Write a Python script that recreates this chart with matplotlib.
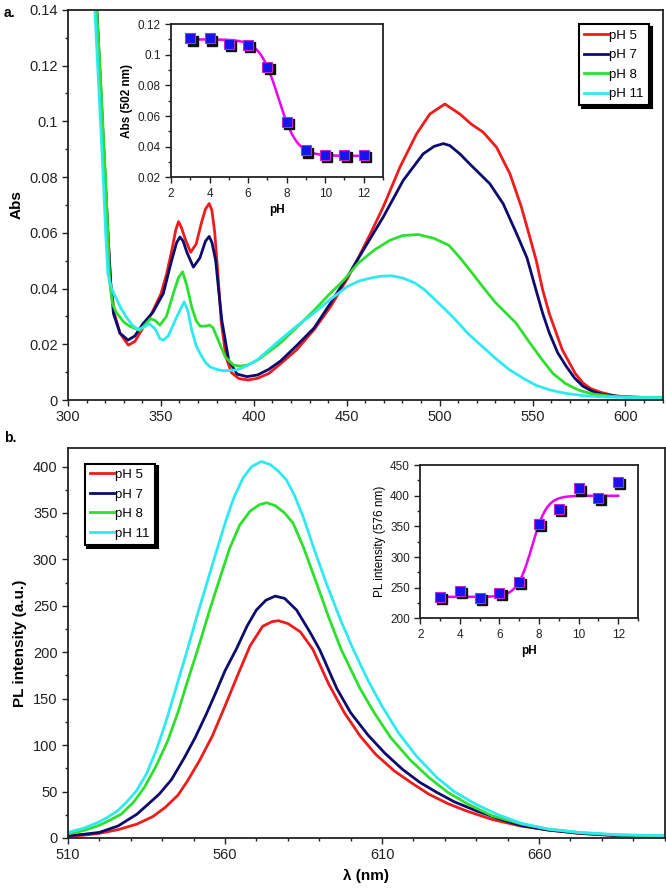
import numpy as np
import matplotlib
matplotlib.use('Agg')
import matplotlib.pyplot as plt
from matplotlib.ticker import MultipleLocator, FixedLocator, FuncFormatter
from matplotlib import transforms

plt.rcParams['font.family'] = ['Liberation Sans', 'DejaVu Sans']

# ---- panel a: absorption spectra ----
wl_a5 = [313, 315.5, 317, 318.5, 320, 321.5, 323, 325, 328, 332.5, 336, 340, 345, 350, 353, 356, 358,
         359.5, 361, 363, 366, 369, 372, 374, 376, 377.5, 379, 380.5, 382.5, 385, 388, 392, 397, 402,
         408, 414, 423, 432.5, 441.5, 450.5, 457, 463, 469.6, 478.6, 487.6, 494.7, 502.8, 510.9, 517,
         523.4, 530.6, 537.8, 544, 548.5, 552, 555.4, 559, 562.7, 566, 569.8, 573, 577, 581, 586, 595,
         605, 620]
abs_5 = [0.16, 0.14, 0.12, 0.10, 0.08, 0.06, 0.042, 0.031, 0.024, 0.0197, 0.021, 0.0255, 0.031, 0.038,
         0.045, 0.054, 0.061, 0.064, 0.062, 0.058, 0.053, 0.056, 0.064, 0.0685, 0.0705, 0.068, 0.060,
         0.047, 0.028, 0.0155, 0.0098, 0.0077, 0.0072, 0.0078, 0.0095, 0.0128, 0.018, 0.0253, 0.0337,
         0.0438, 0.052, 0.060, 0.0692, 0.0835, 0.0955, 0.1026, 0.1062, 0.1026, 0.099, 0.0961, 0.0907,
         0.0812, 0.0692, 0.0585, 0.050, 0.0396, 0.031, 0.0241, 0.018, 0.0134, 0.0095, 0.0062, 0.0042,
         0.0029, 0.0014, 0.001, 0.0008]

wl_a7 = [313, 315.5, 317, 318.5, 320, 321.5, 323, 324.5, 328, 332.3, 336, 340.4, 345.8, 351.3, 355.8,
         358.5, 360.3, 362, 364, 367.5, 371, 374, 376, 377.5, 379.5, 381, 382.8, 386.5, 391, 396.4, 402,
         408, 414.4, 423, 432.5, 441.5, 450.5, 460, 469.6, 480.4, 491.1, 497, 502, 505.5, 510.9, 516.2,
         527, 534.2, 541.4, 547, 551.8, 555.5, 559, 563.5, 568, 572.5, 577, 582, 587.7, 600, 620]
abs_7 = [0.16, 0.14, 0.12, 0.10, 0.08, 0.06, 0.042, 0.031, 0.024, 0.0215, 0.023, 0.0274, 0.0316, 0.0382,
         0.0501, 0.0565, 0.0585, 0.057, 0.053, 0.0477, 0.051, 0.057, 0.0587, 0.0565, 0.050, 0.040,
         0.0286, 0.0143, 0.0093, 0.0084, 0.009, 0.011, 0.014, 0.0195, 0.0259, 0.035, 0.0444, 0.055,
         0.0656, 0.0788, 0.0883, 0.091, 0.092, 0.0913, 0.0883, 0.0847, 0.0776, 0.0704, 0.0597, 0.051,
         0.0396, 0.031, 0.0241, 0.017, 0.0122, 0.008, 0.005, 0.0032, 0.002, 0.0011, 0.0008]

wl_a8 = [313, 315.5, 317.2, 318.7, 320.2, 321.5, 322.5, 324, 326, 330, 333.2, 338.6, 341.5, 344.4, 347,
         349.5, 353, 356.7, 359.5, 361.7, 364, 366.6, 369, 371.1, 374, 376.2, 378, 380.1, 384.6, 389.2,
         393, 396.4, 402, 414.4, 423, 432.5, 440, 448.7, 456, 465, 473.2, 480, 488.4, 497, 505, 511,
         517, 523, 530, 536, 541, 548, 555, 561, 568, 575, 582, 592, 605, 620]
abs_8 = [0.16, 0.14, 0.12, 0.10, 0.08, 0.06, 0.042, 0.0345, 0.0315, 0.028, 0.0265, 0.025, 0.027, 0.0292,
         0.0285, 0.0269, 0.030, 0.0382, 0.044, 0.046, 0.041, 0.0334, 0.0285, 0.0265, 0.0265, 0.0269,
         0.026, 0.0227, 0.0155, 0.0125, 0.0122, 0.0125, 0.0143, 0.0205, 0.026, 0.0322, 0.0375, 0.0432,
         0.049, 0.0539, 0.0573, 0.059, 0.0594, 0.058, 0.0555, 0.051, 0.046, 0.0408, 0.035, 0.031,
         0.0277, 0.021, 0.0146, 0.0095, 0.0058, 0.0035, 0.0022, 0.0014, 0.001, 0.001]

wl_a11 = [312.5, 314.5, 316, 317.5, 319, 320.3, 321.5, 323.5, 326, 328.5, 331.4, 334.5, 337.7, 340.5,
          343.7, 347, 349.5, 351.3, 354, 358.5, 362.5, 364.5, 366.6, 369, 371.1, 374, 376.5, 380,
          383.7, 391, 396, 402, 414.4, 423, 432.5, 441, 450.5, 457, 463.2, 468, 474, 480, 486.7, 492,
          497.5, 503, 508.4, 515, 522.8, 530, 537.3, 545, 551.8, 560, 568, 577, 586, 600, 620]
abs_11 = [0.16, 0.14, 0.12, 0.10, 0.08, 0.06, 0.0454, 0.040, 0.0364, 0.033, 0.0298, 0.027, 0.0253, 0.026,
          0.0274, 0.0255, 0.022, 0.0215, 0.023, 0.0298, 0.0352, 0.032, 0.0251, 0.0195, 0.0167, 0.0135,
          0.0119, 0.011, 0.0105, 0.0108, 0.0122, 0.0145, 0.0217, 0.0265, 0.0313, 0.036, 0.0408, 0.0428,
          0.0438, 0.0444, 0.0446, 0.0438, 0.042, 0.0395, 0.036, 0.0325, 0.0289, 0.024, 0.0193, 0.015,
          0.011, 0.0078, 0.0053, 0.0035, 0.0024, 0.0016, 0.0012, 0.0009, 0.0008]

# inset a: absorbance at 502 nm vs pH
ph = [3, 4, 5, 6, 7, 8, 9, 10, 11, 12]
abs502 = [0.1106, 0.1106, 0.1073, 0.1062, 0.092, 0.056, 0.0375, 0.0346, 0.0346, 0.0346]
fit_a = dict(start=0.110, end=0.034, x0=7.565, dx=0.483)

# ---- panel b: PL spectra ----
wl_b5 = [510, 515, 520, 526, 532, 537, 541, 545, 548, 552, 556, 560, 564, 568, 572, 575, 577, 580, 584,
         588, 593, 598, 603, 608, 614, 620, 625, 631, 637, 645, 654, 663, 673, 685, 700]
pl_5 = [1.8, 3, 5, 9, 15, 23, 33, 46, 61, 84, 110, 142, 175, 207, 228, 233, 234, 231, 222, 203, 166,
        135, 110, 90, 72, 58, 47, 37, 29, 20, 13, 8.5, 5, 2.5, 1.2]

wl_b7 = [510, 515, 520, 526, 532, 539, 543, 547, 550.5, 554, 557, 560, 563.7, 567, 570, 573, 576, 579,
         582.8, 587, 590.2, 595.6, 600, 605.5, 611, 616.5, 622, 627.5, 633, 640, 647, 654.5, 663, 673,
         685, 700]
pl_7 = [2.5, 4, 6, 13, 25.7, 47, 63, 86, 108, 133, 156, 180, 204, 228, 245.5, 256, 260.5, 258, 245.5,
        222, 202.5, 161, 135, 111, 91, 74, 60, 49, 39, 29.3, 21, 13.2, 8.5, 5, 2.5, 1.2]

wl_b8 = [510, 515, 519.6, 523, 527, 531, 534.3, 538, 541.7, 545, 548, 551.5, 555, 558.4, 561.5, 564.7,
         568, 571, 573.2, 576, 579, 581.7, 585, 589.2, 593, 597, 603, 607.5, 612.8, 619, 625, 631,
         637.4, 645, 654.5, 663, 673, 685, 700]
pl_8 = [4.3, 8, 13.2, 18.5, 25.7, 39, 54.3, 77, 104, 135, 168, 205, 244, 280, 312, 337, 352, 359,
        361, 358, 350, 339, 313, 274, 238, 203, 161, 135, 108, 84, 65, 49, 36.4, 24, 15, 9.5, 5.7, 3.2, 2.1]

wl_b11 = [510, 515, 519.6, 522.5, 525.7, 528.5, 531.8, 535, 538, 541, 544.1, 547.8, 551, 554.1, 557.3,
          560.5, 563, 565.8, 568.5, 571.6, 574.5, 577, 579.6, 582, 584.9, 588.5, 592.3, 596.9, 601,
          605.5, 610, 615.3, 621, 627.5, 633, 639.8, 647, 654.5, 663, 673, 685, 700]
pl_11 = [6, 10.5, 16.8, 22, 29, 38, 50.7, 69, 93.5, 123, 158, 200, 238, 273, 309, 344, 368, 388, 400,
         405.5, 402, 395, 385.5, 370, 346, 310, 274, 234, 202, 170, 142, 113, 88, 65, 50, 36.4, 25,
         15.7, 9.5, 6, 3.5, 2.5]

# inset b: PL intensity at 576 nm vs pH
pl576 = [235, 245, 233, 242, 260, 354, 379, 412, 396, 423]
fit_b = dict(start=235, end=400, x0=7.645, dx=0.375)

labels = ['pH 5', 'pH 7', 'pH 8', 'pH 11']
colors = ['#ee1c1c', '#0c0c6e', '#2ee02e', '#2eeaf0']

fmt = FuncFormatter(lambda v, p: '%g' % round(v, 6))


def style_axes(ax, size):
    for s in ax.spines.values():
        s.set_linewidth(1.3)
        s.set_color('#222222')
    ax.tick_params(which='both', direction='out', top=False, right=False, labelsize=size,
                   colors='#222222', width=1.0)
    ax.tick_params(which='major', length=4)
    ax.tick_params(which='minor', length=2.5)


def draw_inset(ax, x, y, fit):
    # Boltzmann sigmoid going from 'start' (low pH) to 'end' (high pH)
    xx = np.linspace(3, 12, 200)
    yy = fit['end'] + (fit['start'] - fit['end']) / (1 + np.exp((xx - fit['x0']) / fit['dx']))
    ax.plot(xx, yy, color='#ee00ee', lw=1.8, zorder=2)
    shadow = transforms.offset_copy(ax.transData, fig=fig, x=1.6, y=-1.6, units='points')
    ax.plot(x, y, 's', ms=7.5, color='#111111', mec='#111111', transform=shadow, zorder=3)
    ax.plot(x, y, 's', ms=7.5, mfc='#1414f0', mec='#cc22cc', mew=0.8, zorder=4)


def add_legend(ax, loc, anchor):
    leg = ax.legend(loc=loc, bbox_to_anchor=anchor, fontsize=9.5, handlelength=1.8,
                    handletextpad=0.1, labelspacing=0.55, borderpad=0.4, fancybox=False,
                    framealpha=1, edgecolor='black',
                    shadow={'color': 'black', 'alpha': 1.0})
    leg.get_frame().set_linewidth(1.5)


fig = plt.figure(figsize=(6.66, 8.91), dpi=100)

# panel a
ax_a = fig.add_axes([0.102, 0.551, 0.893, 0.438])
for wl, val, lab, c in zip([wl_a5, wl_a7, wl_a8, wl_a11], [abs_5, abs_7, abs_8, abs_11], labels, colors):
    ax_a.plot(wl, val, color=c, lw=2.0, label=lab)
ax_a.set_xlim(300, 620)
ax_a.set_ylim(0, 0.14)
ax_a.xaxis.set_major_locator(MultipleLocator(50))
ax_a.xaxis.set_minor_locator(MultipleLocator(10))
ax_a.yaxis.set_major_locator(MultipleLocator(0.02))
ax_a.yaxis.set_minor_locator(MultipleLocator(0.01))
ax_a.yaxis.set_major_formatter(fmt)
style_axes(ax_a, 10.5)
ax_a.set_ylabel('Abs', fontsize=11, fontweight='bold', labelpad=4)
add_legend(ax_a, 'upper right', (0.988, 0.98))

ins_a = fig.add_axes([0.257, 0.801, 0.318, 0.172])
draw_inset(ins_a, ph, abs502, fit_a)
ins_a.set_xlim(2, 13)
ins_a.set_ylim(0.02, 0.12)
ins_a.xaxis.set_major_locator(MultipleLocator(2))
ins_a.xaxis.set_minor_locator(MultipleLocator(1))
ins_a.yaxis.set_major_locator(MultipleLocator(0.02))
ins_a.yaxis.set_minor_locator(MultipleLocator(0.01))
ins_a.yaxis.set_major_formatter(fmt)
style_axes(ins_a, 8.5)
ins_a.set_xlabel('pH', fontsize=8.5, fontweight='bold', labelpad=3)
ins_a.set_ylabel('Abs (502 nm)', fontsize=8.5, fontweight='bold', labelpad=3)

# panel b
ax_b = fig.add_axes([0.102, 0.0595, 0.896, 0.4377])
for wl, val, lab, c in zip([wl_b5, wl_b7, wl_b8, wl_b11], [pl_5, pl_7, pl_8, pl_11], labels, colors):
    ax_b.plot(wl, val, color=c, lw=2.0, label=lab)
ax_b.set_xlim(510, 700)
ax_b.set_ylim(0, 420)
ax_b.xaxis.set_major_locator(FixedLocator([510, 560, 610, 660]))
ax_b.xaxis.set_minor_locator(FixedLocator(np.arange(510, 701, 10)))
ax_b.yaxis.set_major_locator(MultipleLocator(50))
ax_b.yaxis.set_minor_locator(MultipleLocator(25))
style_axes(ax_b, 10.5)
ax_b.set_ylabel('PL intensity (a.u.)', fontsize=11, fontweight='bold', labelpad=4)
ax_b.set_xlabel('\u03bb (nm)', fontsize=11, fontweight='bold', labelpad=5)
add_legend(ax_b, 'upper left', (0.017, 0.977))

ins_b = fig.add_axes([0.631, 0.306, 0.327, 0.172])
draw_inset(ins_b, ph, pl576, fit_b)
ins_b.set_xlim(2, 13)
ins_b.set_ylim(200, 450)
ins_b.xaxis.set_major_locator(MultipleLocator(2))
ins_b.xaxis.set_minor_locator(MultipleLocator(1))
ins_b.yaxis.set_major_locator(MultipleLocator(50))
ins_b.yaxis.set_minor_locator(MultipleLocator(25))
style_axes(ins_b, 8.5)
ins_b.set_xlabel('pH', fontsize=8.5, fontweight='bold', labelpad=3)
ins_b.set_ylabel('PL intensity (576 nm)', fontsize=8.5, labelpad=3)

fig.text(0.006, 0.985, 'a.', fontsize=10, fontweight='bold', va='center')
fig.text(0.006, 0.508, 'b.', fontsize=10, fontweight='bold', va='center')

fig.savefig('out.png', dpi=100)
